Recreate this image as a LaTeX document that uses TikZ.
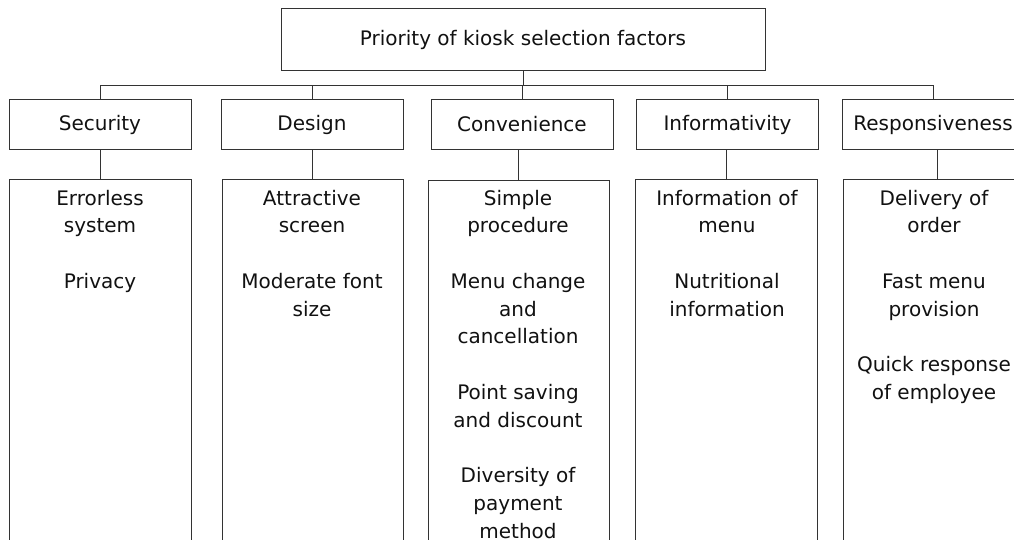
\documentclass[tikz,border=0pt]{standalone}
\usepackage{fontspec}
\setmainfont{DejaVu Sans}
\definecolor{linec}{HTML}{333333}
\definecolor{textc}{HTML}{111111}
\newcommand\itemgap{\\[27.75pt]}
\tikzset{
  box/.style={draw=linec, line width=1pt, rectangle, inner sep=0pt},
  rootbox/.style={box, minimum width=484pt, minimum height=62pt},
  catbox/.style={box, minimum width=182pt, minimum height=50pt},
  listbox/.style={box, anchor=north, minimum width=182pt, minimum height=400pt},
  items/.style={anchor=north, inner sep=0pt, align=center},
  conn/.style={draw=linec, line width=1pt},
}
\begin{document}
\begin{tikzpicture}[x=1pt, y=-1pt, font=\fontsize{20}{27.75}\selectfont, text=textc]
\useasboundingbox (0,0) rectangle (1014,540);
\clip (0,0) rectangle (1014,540);
% root
\node[rootbox] (root) at (523,40) {Priority of kiosk selection factors};
\coordinate (bus) at (0,85.5);
% categories
\node[catbox] (sec)  at (100,124.5) {Security};
\node[catbox] (des)  at (312,124.5) {Design};
\node[catbox] (conv) at (522,124.5) {Convenience};
\node[catbox] (info) at (727.5,124.5) {Informativity};
\node[catbox] (resp) at (933,124.5) {Responsiveness};
% list boxes
\node[listbox] (secl)  at (100,179.5) {};
\node[listbox, minimum width=181pt] (desl)  at (312.5,179.5) {};
\node[listbox, minimum width=181pt] (convl) at (518.5,180.5) {};
\node[listbox] (infol) at (726,179.5) {};
\node[listbox, minimum width=188pt] (respl) at (937,179.5) {};
% list texts
\node[items] (sect) at (100,185.6) {\strut Errorless\\system\itemgap Privacy};
\node[items] (dest) at (312,185.6) {\strut Attractive\\screen\itemgap Moderate font\\size};
\node[items] (convt) at (518,185.6) {\strut Simple\\procedure\itemgap Menu change\\and\\cancellation\itemgap Point saving\\and discount\itemgap Diversity of\\payment\\method};
\node[items] (infot) at (727,185.6) {\strut Information of\\menu\itemgap Nutritional\\information};
\node[items] (respt) at (934,185.6) {\strut Delivery of\\order\itemgap Fast menu\\provision\itemgap Quick response\\of employee};
% connectors root -> categories
\foreach \c in {sec,des,conv,info,resp}{
  \draw[conn] (root.south) -- (root.south |- bus) -| (\c.north);
}
% connectors categories -> lists
\draw[conn] (sec.south) -- (secl.north);
\draw[conn] (des.south) -- (desl.north -| des.south);
\draw[conn] (convl.north |- conv.south) -- (convl.north);
\draw[conn] (infol.north |- info.south) -- (infol.north);
\draw[conn] (respl.north |- resp.south) -- (respl.north);
\end{tikzpicture}
\end{document}
